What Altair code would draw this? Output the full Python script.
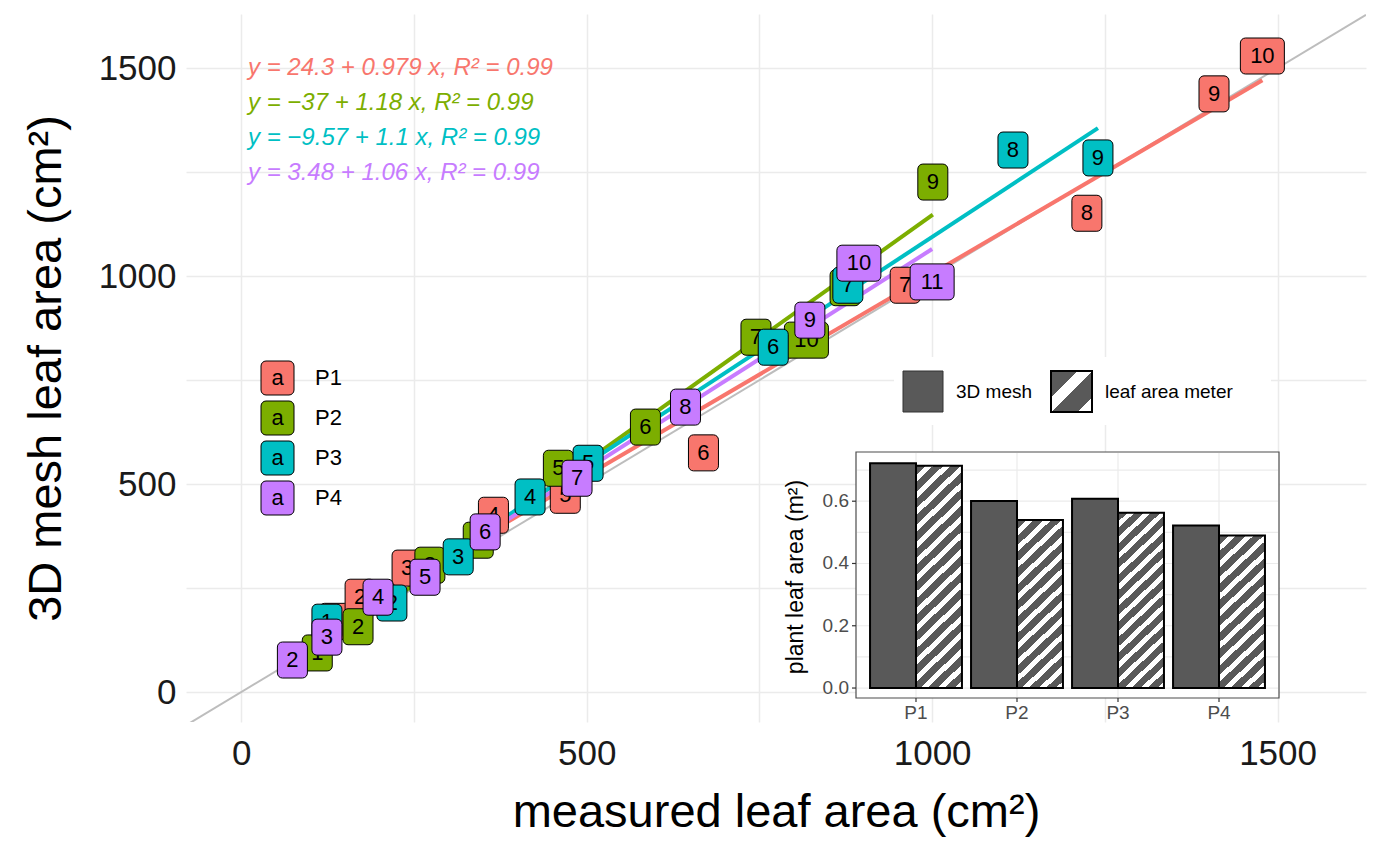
import altair as alt
import numpy as np
import pandas as pd

# %% Data

groups = ["P1", "P2", "P3", "P4"]
colors = ["#F8766D", "#7CAE00", "#00BFC4", "#C77CFF"]

p1_label = [1, 2, 3, 4, 5, 6, 7, 8, 9, 10]
p1_x = [135, 172, 240, 365, 469, 669, 961, 1224, 1408, 1478]
p1_y = [170, 228, 298, 425, 473, 575, 978, 1151, 1438, 1529]

p2_label = [1, 2, 3, 4, 5, 6, 7, 8, 9, 10]
p2_x = [110, 169, 273, 343, 459, 585, 745, 874, 1001, 818]
p2_y = [94, 157, 305, 365, 538, 637, 853, 972, 1226, 846]

p3_label = [1, 2, 3, 4, 5, 6, 7, 8, 9]
p3_x = [124, 218, 314, 418, 502, 770, 878, 1117, 1240]
p3_y = [168, 214, 325, 469, 550, 829, 978, 1303, 1284]

p4_label = [2, 3, 4, 5, 6, 7, 8, 9, 10, 11]
p4_x = [74, 124, 198, 266, 353, 486, 643, 823, 894, 1000]
p4_y = [77, 132, 228, 276, 385, 514, 685, 894, 1031, 986]

equations = [
    "y = 24.3 + 0.979 x,  R² = 0.99",
    "y = −37 + 1.18 x,  R² = 0.99",
    "y = −9.57 + 1.1 x,  R² = 0.99",
    "y = 3.48 + 1.06 x,  R² = 0.99",
]

identity = [-80, 1628]

bar_types = ["3D mesh", "leaf area meter"]
mesh_area = [0.722, 0.601, 0.608, 0.522]
meter_area = [0.714, 0.540, 0.563, 0.490]
inset_ticks = [0.0, 0.2, 0.4, 0.6]
inset_grid = [0.0, 0.1, 0.2, 0.3, 0.4, 0.5, 0.6, 0.7]

# %% Frames

pts = pd.concat(
    [
        pd.DataFrame({"group": g, "label": l, "x": x, "y": y})
        for g, l, x, y in [
            ("P1", p1_label, p1_x, p1_y),
            ("P2", p2_label, p2_x, p2_y),
            ("P3", p3_label, p3_x, p3_y),
            ("P4", p4_label, p4_x, p4_y),
        ]
    ]
)
pts["text"] = pts["label"].astype(str)

FONT = "Liberation Sans"
xsc = alt.Scale(domain=[-80, 1628], nice=False, zero=False)
ysc = alt.Scale(domain=[-72, 1630], nice=False, zero=False)
csc = alt.Scale(domain=groups, range=colors)
hide = "datum.value % 500 == 0 ? datum.label : ''"
ax = dict(
    values=list(range(0, 1751, 250)), labelExpr=hide, format="d", ticks=False, domain=False,
    gridColor="#ebebeb", gridWidth=1.5, labelFontSize=35, labelColor="#1a1a1a",
    titleFontSize=47, titleFontWeight="normal", labelFont=FONT, titleFont=FONT,
    titleColor="black",
)
X = alt.X("x:Q", scale=xsc, title="measured leaf area (cm²)",
          axis=alt.Axis(labelPadding=14, titlePadding=18, **ax))
Y = alt.Y("y:Q", scale=ysc, title="3D mesh leaf area (cm²)",
          axis=alt.Axis(labelPadding=10, titlePadding=28, **ax))

base = alt.Chart(pts).encode(x=X, y=Y)

ident = (
    alt.Chart(pd.DataFrame({"x": identity, "y": identity}))
    .mark_line(color="#bdbdbd", strokeWidth=2, clip=True)
    .encode(x=X, y=Y)
)

fits = (
    base.transform_regression("x", "y", groupby=["group"])
    .mark_line(strokeWidth=4)
    .encode(color=alt.Color("group:N", scale=csc, legend=None))
)

label_layers = []
for g, c in zip(groups, colors):
    sub = base.transform_filter(alt.datum.group == g)
    for cond, w in [("length(datum.text) == 1", 30), ("length(datum.text) == 2", 44)]:
        label_layers.append(
            sub.transform_filter(cond).mark_rect(
                width=w, height=36, cornerRadius=5, fill=c, stroke="black", strokeWidth=1
            )
        )
    label_layers.append(
        sub.mark_text(fontSize=22, font=FONT, color="black", baseline="middle").encode(text="text:N")
    )

# legend keys ("a" in a coloured box), as ggplot draws them
key_layers = []
for i, (g, c) in enumerate(zip(groups, colors)):
    yc = 364 + 40 * i
    key_layers += [
        alt.Chart(pd.DataFrame({"t": ["a"]}))
        .mark_rect(fill=c, stroke="black", strokeWidth=1, cornerRadius=5)
        .encode(x=alt.value(75), x2=alt.value(108), y=alt.value(yc - 17), y2=alt.value(yc + 17)),
        alt.Chart(pd.DataFrame({"t": ["a"]}))
        .mark_text(fontSize=22, font=FONT, baseline="middle")
        .encode(x=alt.value(91.5), y=alt.value(yc), text="t:N"),
        alt.Chart(pd.DataFrame({"t": [g]}))
        .mark_text(fontSize=22, font=FONT, baseline="middle", align="left")
        .encode(x=alt.value(129), y=alt.value(yc), text="t:N"),
    ]

eq_layers = [
    alt.Chart(pd.DataFrame({"eq": [e]}))
    .mark_text(align="left", baseline="middle", fontSize=24, font=FONT, fontStyle="italic", color=c)
    .encode(x=alt.value(62), y=alt.value(54 + 35 * i), text="eq:N")
    for i, (e, c) in enumerate(zip(equations, colors))
]

main = alt.layer(ident, fits, *label_layers, *key_layers, *eq_layers)

# %% Inset

bars = pd.DataFrame(
    {
        "group": groups * 2,
        "type": [bar_types[0]] * 4 + [bar_types[1]] * 4,
        "area": mesh_area + meter_area,
    }
)

IX0, IX1, IY0, IY1 = 670, 1093, 438, 684
bx = alt.Scale(domain=groups, range=[IX0, IX1], paddingInner=0.09, paddingOuter=0.139)
by = alt.Scale(domain=[-0.032, 0.758], range=[IY1, IY0], nice=False, zero=False)
bo = alt.Scale(domain=bar_types)


def box(x0, x1, y0, y1, **kw):
    return (
        alt.Chart(pd.DataFrame({"a": [0]}))
        .mark_rect(**kw)
        .encode(x=alt.value(x0), x2=alt.value(x1), y=alt.value(y0), y2=alt.value(y1))
    )


lbg = box(708, 1085, 343, 411, fill="white")
ibg = box(IX0, IX1, IY0, IY1, fill="white", stroke="#4d4d4d", strokeWidth=1.2)

gdf = pd.DataFrame({"v": inset_grid})
tdf = pd.DataFrame({"v": inset_ticks, "t": [f"{v:.1f}" for v in inset_ticks]})
cdf = pd.DataFrame({"g": groups})

grid_y = alt.Chart(gdf).mark_rule(color="#ebebeb", strokeWidth=1.2).encode(
    y=alt.Y("v:Q", scale=by, axis=None), x=alt.value(IX0 + 1), x2=alt.value(IX1 - 1)
)
grid_x = alt.Chart(cdf).mark_rule(color="#ebebeb", strokeWidth=1.2).encode(
    x=alt.X("g:N", scale=bx, axis=None), y=alt.value(IY0 + 1), y2=alt.value(IY1 - 1)
)
tick_y = alt.Chart(tdf).mark_rule(color="#333333", strokeWidth=1.2).encode(
    y=alt.Y("v:Q", scale=by, axis=None), x=alt.value(IX0 - 4), x2=alt.value(IX0)
)
lab_y = alt.Chart(tdf).mark_text(align="right", baseline="middle", fontSize=19, font=FONT,
                                 color="#4d4d4d").encode(
    y=alt.Y("v:Q", scale=by, axis=None), x=alt.value(IX0 - 7), text="t:N"
)
tick_x = alt.Chart(cdf).mark_rule(color="#333333", strokeWidth=1.2).encode(
    x=alt.X("g:N", scale=bx, axis=None), y=alt.value(IY1), y2=alt.value(IY1 + 4)
)
lab_x = alt.Chart(cdf).mark_text(baseline="top", fontSize=19, font=FONT, color="#4d4d4d").encode(
    x=alt.X("g:N", scale=bx, axis=None), y=alt.value(IY1 + 6), text="g:N"
)
ititle = (
    alt.Chart(pd.DataFrame({"t": ["plant leaf area (m²)"]}))
    .mark_text(angle=270, baseline="middle", fontSize=23, font=FONT, color="black")
    .encode(x=alt.value(IX0 - 60), y=alt.value((IY0 + IY1) / 2 + 2), text="t:N")
)

mesh = (
    alt.Chart(bars)
    .transform_filter(alt.datum.type == bar_types[0])
    .mark_bar(fill="#595959", stroke="black", strokeWidth=2)
    .encode(
        x=alt.X("group:N", scale=bx, axis=None),
        xOffset=alt.XOffset("type:N", scale=bo),
        y=alt.Y("area:Q", scale=by, axis=None),
        y2=alt.datum(0),
    )
)


def hatch(h, w=46.0, period=12.0, white=0.42):
    c = (1 / h + 1 / w) / (1 / h**2 + 1 / w**2)
    n = int(round((w + h) / np.sqrt(2) / period))
    stops = []
    for i in range(n):
        a = i / n
        stops += [
            {"offset": a, "color": "#595959"},
            {"offset": a + (1 - white) / n, "color": "#595959"},
            {"offset": a + (1 - white) / n, "color": "white"},
            {"offset": (i + 1) / n, "color": "white"},
        ]
    return alt.LinearGradient(gradient="linear", x1=0, y1=0, x2=c / h, y2=c / w, stops=stops)


meter_layers = []
for g, v in zip(groups, meter_area):
    h = (v + 0.032) * 311
    meter_layers.append(
        alt.Chart(bars)
        .transform_filter((alt.datum.type == bar_types[1]) & (alt.datum.group == g))
        .mark_bar(fill=hatch(h), stroke="black", strokeWidth=2)
        .encode(
            x=alt.X("group:N", scale=bx, axis=None),
            xOffset=alt.XOffset("type:N", scale=bo),
            y=alt.Y("area:Q", scale=by, axis=None),
            y2=alt.datum(0),
        )
    )

leg_box0 = box(717, 757, 357, 398, fill="#595959", stroke="#333333", strokeWidth=1)
leg_box1 = box(865, 906, 357, 398, fill=hatch(41, w=41, period=26, white=0.35),
               stroke="black", strokeWidth=2)
leg_txt = [
    alt.Chart(pd.DataFrame({"t": [t]}))
    .mark_text(align="left", baseline="middle", fontSize=19, font=FONT)
    .encode(text="t:N", x=alt.value(tx), y=alt.value(378))
    for t, tx in zip(bar_types, [770, 919])
]

inset = alt.layer(
    lbg, leg_box0, leg_box1, *leg_txt, ibg, grid_y, grid_x, tick_y, lab_y, tick_x, lab_x,
    ititle, mesh, *meter_layers,
)

chart = (
    alt.layer(main, inset)
    .resolve_scale(x="independent", y="independent", color="independent", xOffset="independent")
    .properties(
        width=1180,
        height=708,
        autosize=alt.AutoSizeParams(type="none"),
        padding={"left": 178, "top": 6, "right": 5, "bottom": 140},
    )
    .configure_view(stroke=None)
)

chart.save("out.html", embed_options={"renderer": "svg", "actions": False})
